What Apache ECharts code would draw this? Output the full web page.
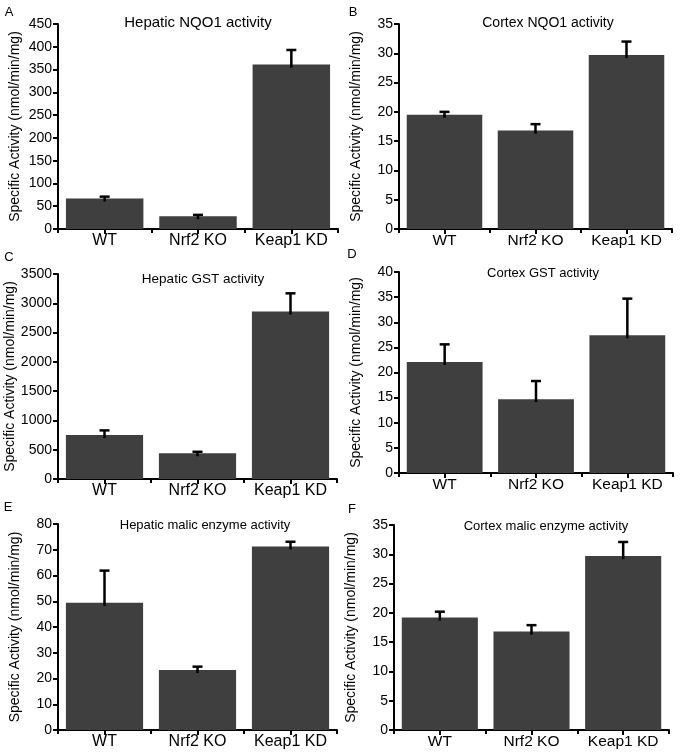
<!DOCTYPE html>
<html>
<head>
<meta charset="utf-8">
<script src="https://cdn.jsdelivr.net/npm/echarts@6/dist/echarts.min.js"></script>
<style>
html,body{margin:0;padding:0;background:#fff;}
#chart{width:682px;height:755px;}
</style>
</head>
<body>
<div id="chart"></div>
<script>
// ---- data ----
const categories = ['WT', 'Nrf2 KO', 'Keap1 KD'];
const panelLetters = ['A', 'B', 'C', 'D', 'E', 'F'];
const panelTitles = [
  'Hepatic NQO1 activity',
  'Cortex NQO1 activity',
  'Hepatic GST activity',
  'Cortex GST activity',
  'Hepatic malic enzyme activity',
  'Cortex malic enzyme activity'
];
const yAxisTitle = 'Specific Activity (nmol/min/mg)';

const valuesA = [67, 28, 361];
const errorsA = [4, 3, 32];
const valuesB = [19.5, 16.8, 29.7];
const errorsB = [0.5, 1.1, 2.3];
const valuesC = [750, 440, 2860];
const errorsC = [80, 25, 310];
const valuesD = [22.1, 14.7, 27.4];
const errorsD = [3.5, 3.6, 7.3];
const valuesE = [49.4, 23.3, 71.3];
const errorsE = [12.5, 1.3, 1.8];
const valuesF = [19.2, 16.8, 29.7];
const errorsF = [1.0, 1.1, 2.4];

const yMax = [450, 35, 3500, 40, 80, 35];
const yStep = [50, 5, 500, 5, 10, 5];

const values = [valuesA, valuesB, valuesC, valuesD, valuesE, valuesF];
const errors = [errorsA, errorsB, errorsC, errorsD, errorsE, errorsF];

// ---- layout ----
const grids = [
  {left: 58, top: 24, width: 280, height: 205},
  {left: 399, top: 24, width: 273, height: 205},
  {left: 58, top: 274, width: 279, height: 205},
  {left: 399, top: 272, width: 274, height: 201},
  {left: 58, top: 524, width: 279, height: 206},
  {left: 394, top: 525, width: 275, height: 205}
];
const titlePos = [[198, 23], [548, 23], [203, 279], [543, 273], [205, 525], [546, 526]];
const titleSize = [15, 14, 13.5, 13, 13, 13];
const letterPos = [[9, 12], [353, 12], [9, 257], [352, 254], [8, 507], [352, 509]];
const catSize = [16, 15.5, 16, 15.5, 16, 15.5];

const FONT = '"Liberation Sans", Arial, Helvetica, sans-serif';
const BAR = '#3f3f3f';

const option = {
  animation: false,
  backgroundColor: '#fff',
  textStyle: {fontFamily: FONT, color: '#000'},
  grid: grids.map(g => Object.assign({containLabel: false}, g)),
  xAxis: [],
  yAxis: [],
  series: [],
  graphic: []
};

for (let i = 0; i < 6; i++) {
  option.xAxis.push({
    type: 'category', gridIndex: i, data: categories, position: 'bottom',
    axisLine: {show: true, lineStyle: {color: '#000', width: 2}},
    axisTick: {show: true, length: 4, lineStyle: {color: '#000', width: 2}},
    axisLabel: {color: '#000', fontSize: catSize[i], fontFamily: FONT, margin: 4,
                interval: 0, hideOverlap: false}
  });
  option.xAxis.push({
    type: 'category', gridIndex: i, data: categories, position: 'bottom', offset: 0,
    axisLine: {show: false},
    axisTick: {show: true, alignWithLabel: true, interval: 0, length: 5, lineStyle: {color: '#000', width: 2}},
    axisLabel: {show: false}
  });
  option.yAxis.push({
    type: 'value', gridIndex: i, min: 0, max: yMax[i], interval: yStep[i],
    name: yAxisTitle, nameLocation: 'middle', nameRotate: 90, nameGap: 36,
    nameTextStyle: {fontSize: 14, color: '#000', fontFamily: FONT},
    axisLine: {show: true, lineStyle: {color: '#000', width: 2}},
    axisTick: {show: true, length: 5, lineStyle: {color: '#000', width: 2}},
    axisLabel: {color: '#000', fontSize: 14, fontFamily: FONT, margin: 6,
                formatter: v => String(v)},
    splitLine: {show: false}
  });
  option.series.push({
    type: 'bar', xAxisIndex: i * 2, yAxisIndex: i,
    data: values[i], barWidth: '83%',
    itemStyle: {color: BAR}, z: 2
  });
  option.series.push({
    type: 'custom', xAxisIndex: i * 2, yAxisIndex: i, z: 5,
    data: values[i].map((v, k) => [k, v, errors[i][k]]),
    encode: {x: 0, y: 1},
    renderItem: function (params, api) {
      const x = api.value(0), v = api.value(1), e = api.value(2);
      const p0 = api.coord([x, v]);
      const p1 = api.coord([x, v + e]);
      const st = {stroke: '#000', lineWidth: 2.5};
      return {
        type: 'group',
        children: [
          {type: 'line', shape: {x1: p0[0], y1: p0[1] + 3, x2: p1[0], y2: p1[1]}, style: st},
          {type: 'line', shape: {x1: p1[0] - 5, y1: p1[1], x2: p1[0] + 5, y2: p1[1]}, style: st}
        ]
      };
    }
  });
  option.graphic.push({
    type: 'text', x: titlePos[i][0], y: titlePos[i][1],
    style: {text: panelTitles[i], fontSize: titleSize[i], fontFamily: FONT, fill: '#000',
            align: 'center', verticalAlign: 'middle'}
  });
  option.graphic.push({
    type: 'text', x: letterPos[i][0], y: letterPos[i][1],
    style: {text: panelLetters[i], fontSize: 13, fontFamily: FONT, fill: '#000',
            align: 'center', verticalAlign: 'middle'}
  });
}

const chart = echarts.init(document.getElementById('chart'), null, {renderer: 'canvas'});
chart.setOption(option);
</script>
</body>
</html>
